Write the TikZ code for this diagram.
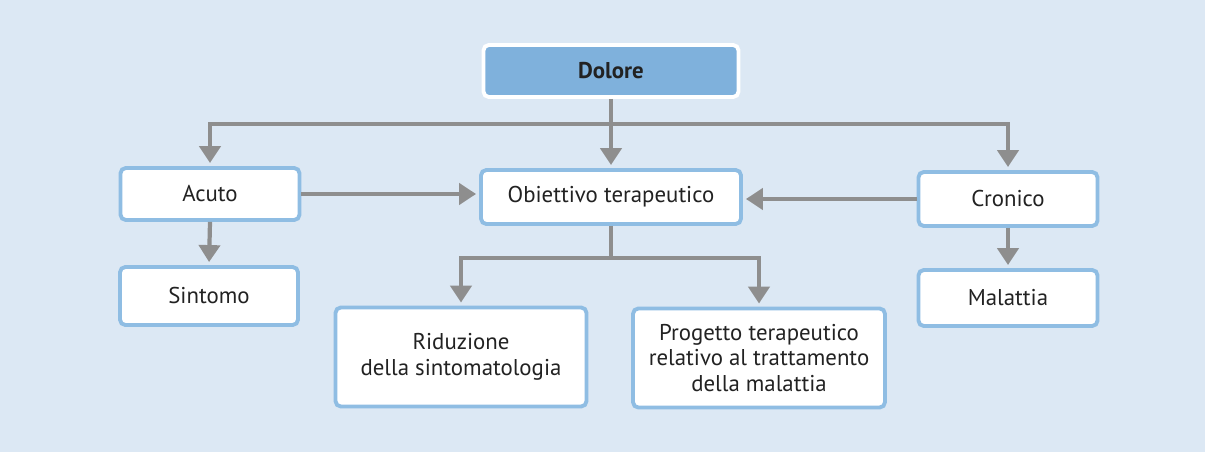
\documentclass[tikz,border=0pt]{standalone}
\usepackage{fontspec}
\setmainfont{PT Sans}
\usepackage{xcolor}
\usetikzlibrary{arrows.meta}
\definecolor{sfondo}{HTML}{DCE8F4}
\definecolor{bordo}{HTML}{8FBDE3}
\definecolor{titolo}{HTML}{7FB1DC}
\definecolor{grigio}{HTML}{8E8E8E}
\definecolor{testo}{HTML}{222222}
\tikzstyle{box}=[draw=bordo, line width=2.2pt, fill=white, rounded corners=3pt, align=center, text=testo, inner sep=0pt, font=\fontsize{13}{14.5}\selectfont]
\tikzstyle{boxtitolo}=[box, draw=white, fill=titolo, font=\bfseries\fontsize{13}{14.5}\selectfont]
\tikzstyle{linea}=[draw=grigio, line width=2.4pt]
\tikzstyle{freccia}=[linea, -{Triangle[width=0.42cm, length=0.34cm]}, shorten >=0.06cm]

\begin{document}
\begin{tikzpicture}[x=0.02cm, y=-0.02cm]
		\fill[sfondo] (0, 0) rectangle (1205, 452);
		\node(dolore)[boxtitolo, minimum width=5.1cm, minimum height=1.04cm] at (611, 71) {Dolore};
		\node(acuto)[box, minimum width=3.58cm, minimum height=1.04cm] at (210, 194) {Acuto};
		\node(obiettivo)[box, minimum width=5.2cm, minimum height=1.08cm] at (611, 197) {Obiettivo terapeutico};
		\node(cronico)[box, minimum width=3.58cm, minimum height=1.08cm] at (1008, 199) {Cronico};
		\node(sintomo)[box, minimum width=3.56cm, minimum height=1.16cm] at (209, 296) {Sintomo};
		\node(malattia)[box, minimum width=3.58cm, minimum height=1.12cm] at (1008, 298) {Malattia};
		\node(riduzione)[box, minimum width=5.02cm, minimum height=1.98cm] at (461, 357) {Riduzione\\della sintomatologia};
		\node(progetto)[box, minimum width=5.04cm, minimum height=1.98cm] at (759, 358) {Progetto terapeutico\\relativo al trattamento\\della malattia};
		\coordinate(ramo1) at (611, 124);
		\coordinate(ramo2) at (611, 258);
		\draw[freccia] (dolore.south) -- (obiettivo.north);
		\draw[freccia] (ramo1) -| (acuto.north);
		\draw[freccia] (ramo1) -| (cronico.north);
		\draw[freccia] (acuto.east) -- (obiettivo.west |- acuto.east);
		\draw[freccia] (cronico.west) -- (obiettivo.east |- cronico.west);
		\draw[freccia] (acuto.south) -- (sintomo.north);
		\draw[freccia] (cronico.south) -- (malattia.north);
		\draw[linea] (obiettivo.south) -- (ramo2);
		\draw[freccia] (ramo2) -| (riduzione.north);
		\draw[freccia] (ramo2) -| (progetto.north);
\end{tikzpicture}
\end{document}
